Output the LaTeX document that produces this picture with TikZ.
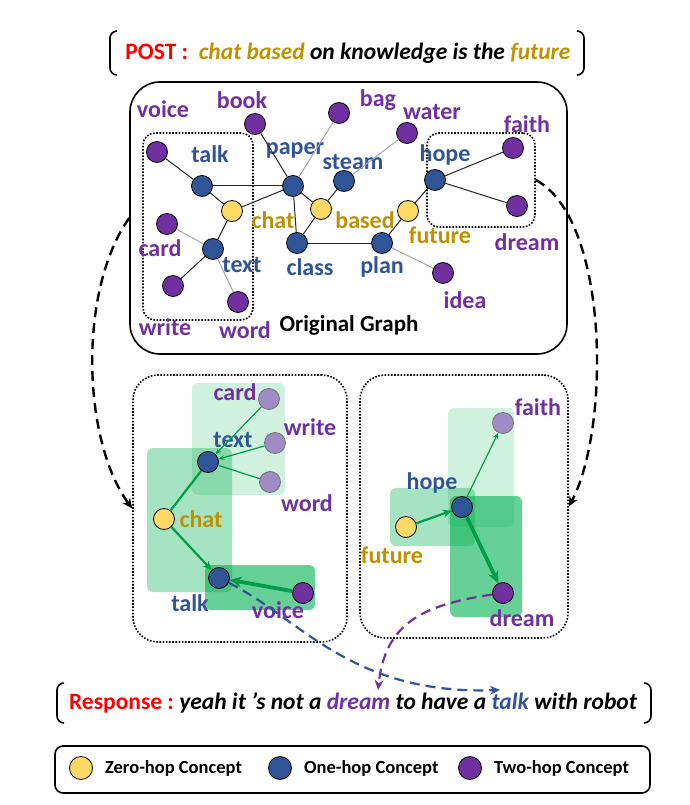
\documentclass[tikz,border=0pt]{standalone}
\usepackage{fontspec}
\setmainfont{Carlito}
\usetikzlibrary{arrows.meta,positioning}
\definecolor{zeroC}{HTML}{FFD966}
\definecolor{oneC}{HTML}{2F5597}
\definecolor{twoC}{HTML}{7030A0}
\definecolor{fadeC}{HTML}{A08CC4}
\definecolor{goldC}{HTML}{BF9000}
\definecolor{hopG}{HTML}{00B050}
\newcommand{\lblfont}{\fontsize{24}{26}\selectfont\bfseries}
\newcommand{\sayfont}{\fontsize{23.5}{26}\selectfont\bfseries}

\begin{document}
\begin{tikzpicture}[x=1pt, y=-1pt,
  cpt/.style={circle, draw=black, line width=0.8pt, minimum size=21pt,
    inner sep=0pt},
  zero/.style={cpt, fill=zeroC},
  one/.style={cpt, fill=oneC},
  two/.style={cpt, fill=twoC},
  faded/.style={cpt, fill=fadeC, draw=black!55},
  lbl/.style={font=\lblfont, inner sep=0pt},
  lzero/.style={lbl, text=goldC},
  lone/.style={lbl, text=oneC},
  ltwo/.style={lbl, text=twoC},
  edge/.style={line width=1pt, black!85},
  weak/.style={line width=1pt, black!35},
  dotbox/.style={draw, line width=1.6pt, dash pattern=on 1.6pt off 1.6pt},
  hopA/.style={fill=hopG, fill opacity=0.18, rounded corners=6pt},
  hopB/.style={fill=hopG, fill opacity=0.35, rounded corners=6pt},
  hopC/.style={fill=hopG, fill opacity=0.6, rounded corners=6pt},
  flowT/.style={draw=hopG!90!black, line width=1.2pt,
    -{Stealth[length=6pt,width=5pt]}},
  flowM/.style={draw=hopG!90!black, line width=2.2pt,
    -{Stealth[length=9pt,width=8pt]}},
  flowK/.style={draw=hopG!90!black, line width=3.8pt,
    -{Stealth[length=12pt,width=11pt]}},
  pick/.style={line width=2.4pt, dash pattern=on 10pt off 6pt,
    -{Stealth[length=10pt,width=9pt]}},
  brk/.style={line width=1.6pt, rounded corners=7pt},
  keytext/.style={font=\fontsize{18.5}{20}\selectfont\bfseries,
    inner sep=0pt}]
\useasboundingbox (0,0) rectangle (690,805);

% post
\node[font=\sayfont] (post) at (348,53)
  {{\color{red}POST\ :}\ \ \itshape{\color{goldC}chat based} on knowledge
   is the {\color{goldC}future}};
\draw[brk] (117,31) -- (110,31) -- (110,75) -- (117,75);
\draw[brk] (577,31) -- (584,31) -- (584,75) -- (577,75);

% original graph
\node[draw, line width=1.6pt, rounded corners=30pt, minimum width=437pt,
  minimum height=272pt] (graph) at (348.5,218) {};
\node[dotbox, rounded corners=12pt, minimum width=110pt,
  minimum height=187pt] (selL) at (198,226.5) {};
\node[dotbox, rounded corners=12pt, minimum width=108pt,
  minimum height=94pt] (selR) at (481,180) {};

\node[two] (voice) at (157,152) {};
\node[two] (book) at (255,124) {};
\node[two] (bag) at (339,113) {};
\node[two] (water) at (407,133) {};
\node[one] (talk) at (202,186) {};
\node[one] (paper) at (293,186) {};
\node[one] (steam) at (344,181) {};
\node[zero] (chat) at (232,211) {};
\node[zero] (based) at (321,209) {};
\node[two] (card) at (167,224) {};
\node[one] (text) at (213,249) {};
\node[one] (class) at (297,243) {};
\node[one] (plan) at (382,243) {};
\node[two] (write) at (173,286) {};
\node[two] (word) at (238,302) {};
\node[one] (hope) at (435,180) {};
\node[two] (faith) at (513,148) {};
\node[two] (dream) at (517,206) {};
\node[zero] (future) at (408,211) {};
\node[two] (idea) at (443,273) {};

\node[ltwo] at (163,109) {voice};
\node[ltwo] at (242,100) {book};
\node[ltwo] at (378,100) {bag};
\node[ltwo] at (432,112) {water};
\node[lone] at (210,154) {talk};
\node[lone] at (295,150) {paper};
\node[lone] at (353,162) {steam};
\node[lzero] at (273,220) {chat};
\node[lzero] at (365,220) {based};
\node[ltwo] at (160,248) {card};
\node[lone] at (242,265) {text};
\node[lone] at (310,267) {class};
\node[lone] at (382,267) {plan};
\node[ltwo] at (165,327) {write};
\node[ltwo] at (245,330) {word};
\node[lone] at (445,155) {hope};
\node[ltwo] at (527,124) {faith};
\node[ltwo] at (527,242) {dream};
\node[lzero] at (440,235) {future};
\node[ltwo] at (465,300) {idea};
\node[lbl, font=\fontsize{23}{25}\selectfont\bfseries] (graph-l)
  at (349,325) {Original Graph};

\draw[edge] (voice) -- (talk);
\draw[edge] (talk) -- (paper);
\draw[edge] (talk) -- (chat);
\draw[edge] (chat) -- (paper);
\draw[edge] (chat) -- (text);
\draw[weak] (card) -- (text);
\draw[edge] (text) -- (write);
\draw[weak] (text) -- (word);
\draw[edge] (book) -- (paper);
\draw[weak] (bag) -- (paper);
\draw[edge] (paper) -- (based);
\draw[edge] (paper) -- (class);
\draw[edge] (based) -- (steam);
\draw[weak] (steam) -- (water);
\draw[edge] (based) -- (class);
\draw[edge] (class) -- (plan);
\draw[edge] (plan) -- (future);
\draw[weak] (plan) -- (idea);
\draw[edge] (future) -- (hope);
\draw[edge] (hope) -- (faith);
\draw[edge] (hope) -- (dream);

% reasoning paths
\node[dotbox, rounded corners=25pt, minimum width=214pt,
  minimum height=267pt] (boxL) at (240,508.5) {};
\node[dotbox, rounded corners=25pt, minimum width=208pt,
  minimum height=263pt] (boxR) at (464,506.5) {};

\fill[hopA] (192,383) rectangle (285,495);
\fill[hopB] (147,448) rectangle (232,592);
\fill[hopC] (205,565) rectangle (315,610);
\fill[hopA] (448,408) rectangle (514,527);
\fill[hopB] (390,488) rectangle (475,546);
\fill[hopC] (450,496) rectangle (522,617);

\node[faded] (card2) at (269,399) {};
\node[faded] (write2) at (275,443) {};
\node[faded] (word2) at (270,482) {};
\node[one] (text2) at (208,462) {};
\node[zero] (chat2) at (164,519) {};
\node[one] (talk2) at (219,578) {};
\node[two] (voice2) at (303,593) {};
\node[faded] (faith2) at (503,423) {};
\node[one] (hope2) at (462,507) {};
\node[zero] (future2) at (406,527) {};
\node[two] (dream2) at (503,593) {};

\node[ltwo] at (235,392) {card};
\node[ltwo] at (310,427) {write};
\node[ltwo] at (307,503) {word};
\node[lone] at (233,440) {text};
\node[lzero] at (201,519) {chat};
\node[lone] at (190,603) {talk};
\node[ltwo] at (278,610) {voice};
\node[ltwo] at (538,407) {faith};
\node[lone] at (432,483) {hope};
\node[lzero] at (392,555) {future};
\node[ltwo] at (522,618) {dream};

\draw[flowT] (card2) -- (text2);
\draw[flowT] (write2) -- (text2);
\draw[flowT, -] (word2) -- (text2);
\draw[flowM, -] (chat2) -- (text2);
\draw[flowM] (chat2) -- (talk2);
\draw[flowK] (voice2) -- (talk2);
\draw[flowM] (future2) -- (hope2);
\draw[flowT] (hope2) -- (faith2);
\draw[flowK] (hope2) -- (dream2);

\draw[pick] (graph.west) .. controls (78,290) and (82,440) .. (boxL.west);
\draw[pick] (selR.east) .. controls (610,220) and (610,430) .. (boxR.east);

% response
\node[font=\fontsize{23.5}{26}\selectfont\bfseries] (resp) at (353,703)
  {{\color{red}Response\ :}\ \itshape yeah it ’s not a {\color{twoC}dream}
   to have a {\color{oneC}talk} with robot};
\draw[brk] (64,683) -- (57,683) -- (57,723) -- (64,723);
\draw[brk] (644,683) -- (651,683) -- (651,723) -- (644,723);
\coordinate (tgtTalk) at (500,690);
\coordinate (tgtDream) at (378,690);
\draw[pick, draw=oneC, line width=2.2pt] (talk2) .. controls (300,618)
  and (350,695) .. (tgtTalk);
\draw[pick, draw=twoC, line width=2.2pt] (dream2) .. controls (420,605)
  and (385,625) .. (tgtDream);

% legend
\node[draw, line width=1.6pt, rounded corners=8pt, minimum width=595pt,
  minimum height=47pt] (legend) at (352.5,769.5) {};
\node[zero, minimum size=23pt] (lg0) at (81,768) {};
\node[one, minimum size=23pt] (lg1) at (280,768) {};
\node[two, minimum size=23pt] (lg2) at (470,768) {};
\node[keytext, right=12pt of lg0] {Zero-hop Concept};
\node[keytext, right=12pt of lg1] {One-hop Concept};
\node[keytext, right=12pt of lg2] {Two-hop Concept};
\end{tikzpicture}
\end{document}
